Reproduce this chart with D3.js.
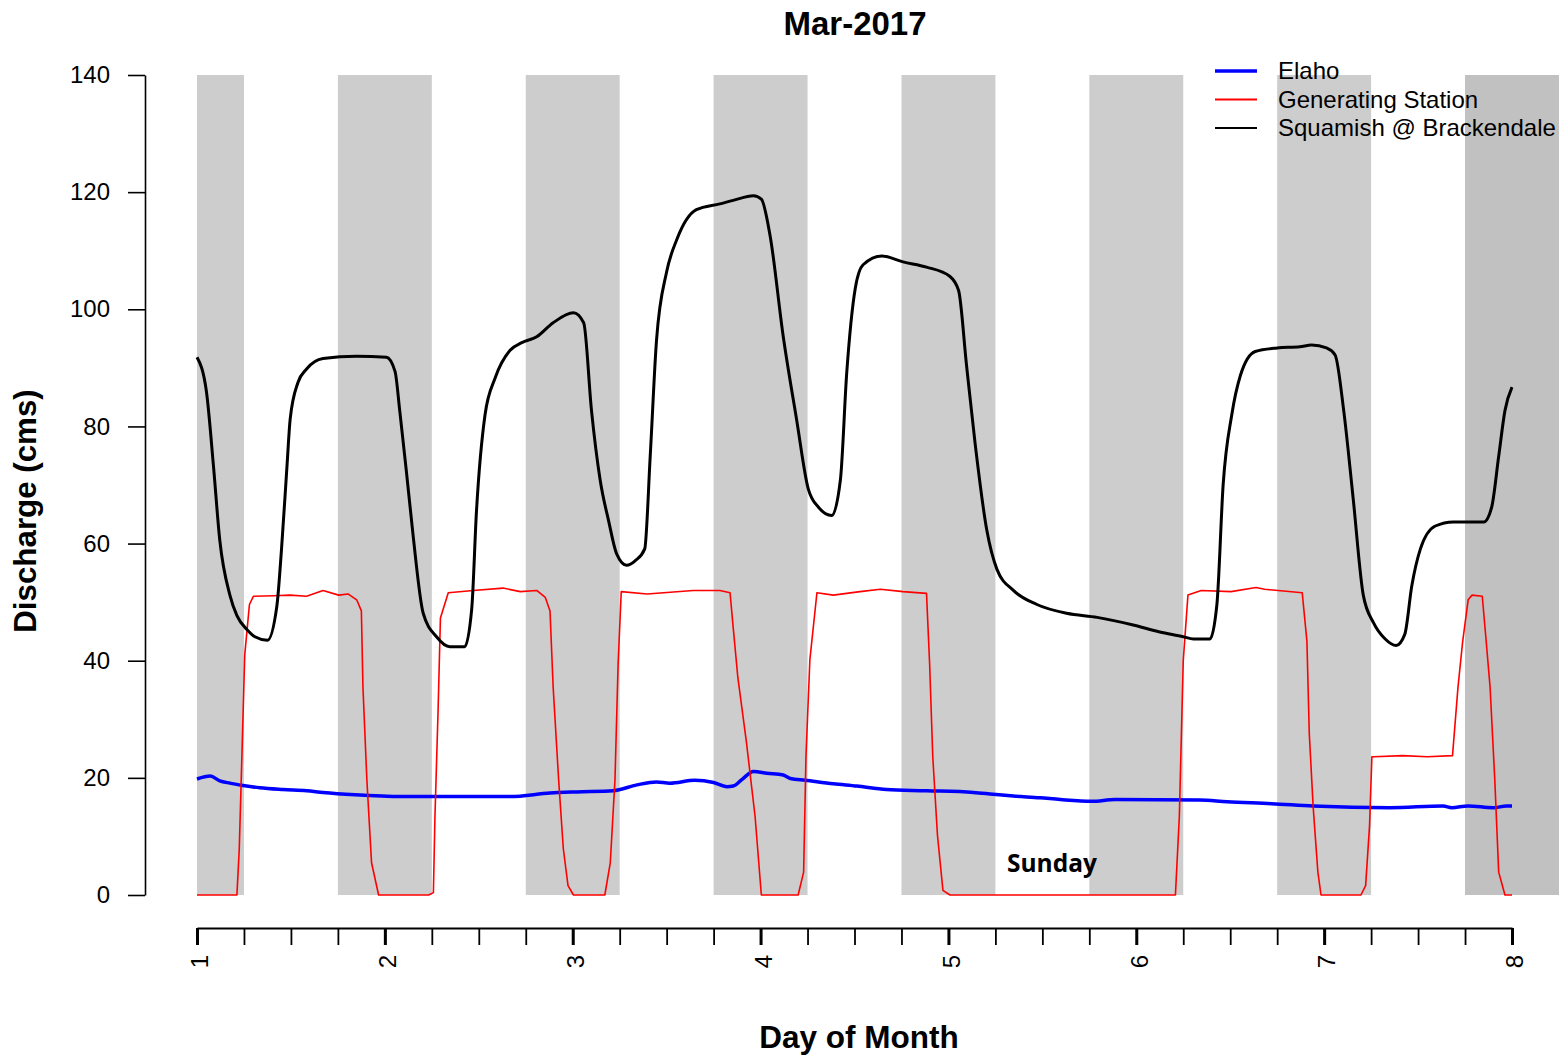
<!DOCTYPE html>
<html>
<head>
<meta charset="utf-8">
<script src="https://cdn.jsdelivr.net/npm/d3@7"></script>
<style>
  html, body { margin: 0; padding: 0; background: #fff; }
  svg { display: block; }
  text { font-family: "Liberation Sans", Arial, sans-serif; fill: #000; }
</style>
</head>
<body>
<svg id="chart" width="1563" height="1057"></svg>
<script>
// Hourly discharge, 1–8 March 2017 (hours counted from 00:00 on day 1)
const squamishHours = [0,1.2,2.1,2.9,4.2,5.1,6.4,7.4,9.0,10.2,10.8,11.5,11.9,12.9,14.0,16.1,20.4,24.2,25.3,25.9,26.8,27.6,28.9,30.6,32.3,34.2,35.1,35.7,36.8,38.1,40.0,41.5,43.4,45.5,48.1,49.4,50.4,51.5,52.6,53.6,54.9,56.0,57.2,57.9,58.7,60.0,61.3,63.8,66.8,68.5,71.1,72.1,73.2,74.9,76.6,78.1,79.4,81.1,82.2,83.0,84.1,85.1,87.5,90.2,93.2,96.2,97.3,98.3,99.4,100.9,102.2,104.3,107.3,111.1,115.0,119.6,123.0,126.0,127.3,129.4,130.3,131.1,132.2,133.3,135.2,138.0,140.9,142.4,144.3,145.4,146.5,147.7,149.0,150.3,151.8,153.2,154.3,155.2,156.3,158.2,160.5,164.4,165.4,166.3,167.1,168.0];
const squamishFlow  = [91.8,86.0,73.3,60.7,51.2,47.7,45.3,44.1,43.5,49.3,59.1,73.3,81.2,87.5,89.8,91.6,92.0,91.8,89.4,82.7,71.7,61.5,48.1,44.1,42.4,42.4,48.9,65.4,82.0,88.3,93.0,94.3,95.3,97.7,99.4,97.7,82.7,70.9,63.8,58.3,56.3,57.1,59.1,74.9,94.6,106.4,111.9,117.0,118.0,118.6,119.4,118.8,112.7,95.3,81.2,69.3,66.2,64.8,70.9,89.0,103.6,107.6,109.1,108.1,107.2,105.6,103.2,90.6,77.2,62.3,55.6,52.0,49.6,48.1,47.4,46.1,44.9,44.1,43.7,43.7,49.6,70.1,82.0,88.7,92.8,93.4,93.6,93.9,93.4,92.2,82.7,67.8,51.2,46.5,43.7,42.6,44.5,52.8,59.1,63.0,63.7,63.7,66.2,74.9,82.7,86.7];

const stationHours = [0,5.1,5.4,5.7,6.1,6.7,7.2,9.8,11.9,14.0,16.1,18.1,19.3,20.4,21.0,21.2,21.7,22.3,23.2,29.6,30.2,30.4,30.8,31.1,32.1,35.3,39.1,41.3,43.4,44.5,45.1,45.5,46.2,46.8,47.4,48.1,52.1,52.8,53.4,53.8,54.2,57.5,63.4,66.8,68.1,68.5,69.1,70.2,71.3,72.1,76.8,77.5,77.8,78.3,79.2,81.3,84.7,87.3,90.2,93.2,93.6,94.0,94.6,95.3,96.2,125.0,125.5,126.0,126.6,128.3,132.1,135.3,136.4,141.2,141.8,142.1,142.6,143.2,143.6,148.7,149.3,149.8,150.1,150.4,154.0,157.2,160.4,161.1,161.7,162.4,162.9,164.2,164.6,165.2,165.8,166.3,167.1,168.0];
const stationFlow  = [0,0,7.9,22.0,41.0,49.6,51.0,51.1,51.2,51.0,52.0,51.2,51.4,50.4,48.5,35.5,19.7,5.5,0,0,0.4,13.4,31.5,47.3,51.6,52.0,52.4,51.8,52.0,50.8,48.5,35.5,19.7,7.9,1.6,0,0,5.5,19.7,39.4,51.8,51.4,52.0,52.0,51.6,45.7,37.1,26.0,13.4,0,0,3.9,23.6,40.2,51.6,51.2,51.8,52.2,51.8,51.5,39.4,23.6,10.2,0.8,0,0,13.4,40.0,51.2,52.0,51.8,52.5,52.2,51.6,43.3,27.6,15.0,3.9,0,0,1.6,11.8,23.6,23.6,23.8,23.6,23.8,35.5,43.3,50.4,51.2,51.0,44.9,35.5,19.7,3.9,0,0];

const elahoHours = [0,1.7,2.9,4.2,5.9,8.0,11.0,14.0,16.1,20.2,26.2,40.0,45.1,48.5,53.2,56.2,58.7,60.4,63.6,66.0,67.7,68.5,69.6,71.1,72.8,74.9,75.8,77.7,81.3,84.3,88.1,93.2,99.2,101.7,104.3,107.7,110.3,114.3,117.3,128.1,131.6,137.3,142.6,152.4,159.2,160.3,162.4,165.6,167.3,168.0];
const elahoFlow  = [19.8,20.3,19.5,19.1,18.7,18.3,18.0,17.8,17.5,17.1,16.8,16.8,17.4,17.6,17.8,18.8,19.3,19.1,19.6,19.2,18.5,18.6,19.7,21.1,20.8,20.5,19.9,19.6,19.0,18.6,18.0,17.8,17.5,17.2,16.9,16.6,16.3,16.0,16.3,16.2,15.9,15.6,15.2,14.9,15.2,14.9,15.2,14.9,15.2,15.2];

// Night-time shading (18:00–06:00), in hours from day 1
const nightStart = [0, 18, 42, 66, 90, 114, 138, 162];
const nightEnd   = [6, 30, 54, 78, 102, 126, 150, 174];

const yTicks = [0, 20, 40, 60, 80, 100, 120, 140];
const dayTicks = [1, 2, 3, 4, 5, 6, 7, 8];
const quarterTicks = d3.range(1, 8.01, 0.25);

const legendLabels = ["Elaho", "Generating Station", "Squamish @ Brackendale"];
const legendColors = ["#0000ff", "#ff0000", "#000000"];
const legendWidths = [3.5, 2, 2];

const svg = d3.select("#chart");
const x = d3.scaleLinear().domain([1, 8]).range([197, 1512]);
const y = d3.scaleLinear().domain([0, 140]).range([895, 75]);
const dayOf = h => 1 + h / 24;

// shading
svg.append("g").selectAll("rect")
  .data(nightStart.map((s, i) => ({ s, e: nightEnd[i], last: i === nightStart.length - 1 })))
  .join("rect")
  .attr("x", d => x(dayOf(d.s)))
  .attr("width", d => x(dayOf(d.e)) - x(dayOf(d.s)))
  .attr("y", y(140))
  .attr("height", y(0) - y(140))
  .attr("fill", d => d.last ? "#c1c1c1" : "#cdcdcd");

const line = d3.line().x(d => x(dayOf(d[0]))).y(d => y(d[1]));
const smooth = d3.line().x(d => x(dayOf(d[0]))).y(d => y(d[1])).curve(d3.curveMonotoneX);

svg.append("path")
  .datum(elahoHours.map((h, i) => [h, elahoFlow[i]]))
  .attr("d", smooth).attr("fill", "none")
  .attr("stroke", "#0000ff").attr("stroke-width", 3.5).attr("stroke-linejoin", "round");

svg.append("path")
  .datum(stationHours.map((h, i) => [h, stationFlow[i]]))
  .attr("d", line).attr("fill", "none")
  .attr("stroke", "#ff0000").attr("stroke-width", 1.6).attr("stroke-linejoin", "round");

svg.append("path")
  .datum(squamishHours.map((h, i) => [h, squamishFlow[i]]))
  .attr("d", smooth).attr("fill", "none")
  .attr("stroke", "#000000").attr("stroke-width", 3).attr("stroke-linejoin", "round");

// y axis
const yAxis = svg.append("g")
  .attr("transform", "translate(145,0)")
  .call(d3.axisLeft(y).tickValues(yTicks).tickSize(17).tickSizeOuter(0).tickPadding(18));
yAxis.select(".domain").attr("stroke", "#000").attr("stroke-width", 1.6);
yAxis.selectAll(".tick line").attr("stroke", "#000").attr("stroke-width", 1.6);
yAxis.selectAll("text").style("font-size", "24px").attr("fill", "#000");

// x axis: quarter-day minor ticks plus labelled day ticks
const xMinor = svg.append("g")
  .attr("transform", "translate(0,928)")
  .call(d3.axisBottom(x).tickValues(quarterTicks).tickSize(17).tickSizeOuter(0).tickFormat(""));
xMinor.select(".domain").attr("stroke", "#000").attr("stroke-width", 2);
xMinor.selectAll(".tick line").attr("stroke", "#000").attr("stroke-width", 1.8);

const xMajor = svg.append("g")
  .attr("transform", "translate(0,928)")
  .call(d3.axisBottom(x).tickValues(dayTicks).tickSize(17).tickSizeOuter(0).tickFormat(d3.format("d")));
xMajor.select(".domain").remove();
xMajor.selectAll(".tick line").attr("stroke", "#000").attr("stroke-width", 3);
xMajor.selectAll("text")
  .style("font-size", "24px")
  .attr("fill", "#000")
  .attr("transform", "rotate(-90)")
  .attr("text-anchor", "end")
  .attr("x", -27)
  .attr("y", 0)
  .attr("dy", "0.45em");

// titles
svg.append("text").attr("x", 855).attr("y", 35).attr("text-anchor", "middle")
  .style("font-size", "33px").style("font-weight", "bold").text("Mar-2017");
svg.append("text").attr("x", 859).attr("y", 1048).attr("text-anchor", "middle")
  .style("font-size", "31.5px").style("font-weight", "bold").text("Day of Month");
svg.append("text").attr("transform", "translate(36,511) rotate(-90)").attr("text-anchor", "middle")
  .style("font-size", "31.3px").style("font-weight", "bold").text("Discharge (cms)");

// annotation
svg.append("text").attr("x", 1007).attr("y", 872)
  .style("font-family", "'Open Sans', sans-serif").style("font-size", "24.5px").style("font-weight", "bold")
  .text("Sunday");

// legend
const legend = svg.append("g");
legendLabels.forEach((label, i) => {
  const ly = 71 + i * 28.5;
  legend.append("line").attr("x1", 1215).attr("x2", 1257).attr("y1", ly).attr("y2", ly)
    .attr("stroke", legendColors[i]).attr("stroke-width", legendWidths[i]);
  legend.append("text").attr("x", 1278).attr("y", ly).attr("dy", "0.35em")
    .style("font-size", "24px").text(label);
});
</script>
</body>
</html>
